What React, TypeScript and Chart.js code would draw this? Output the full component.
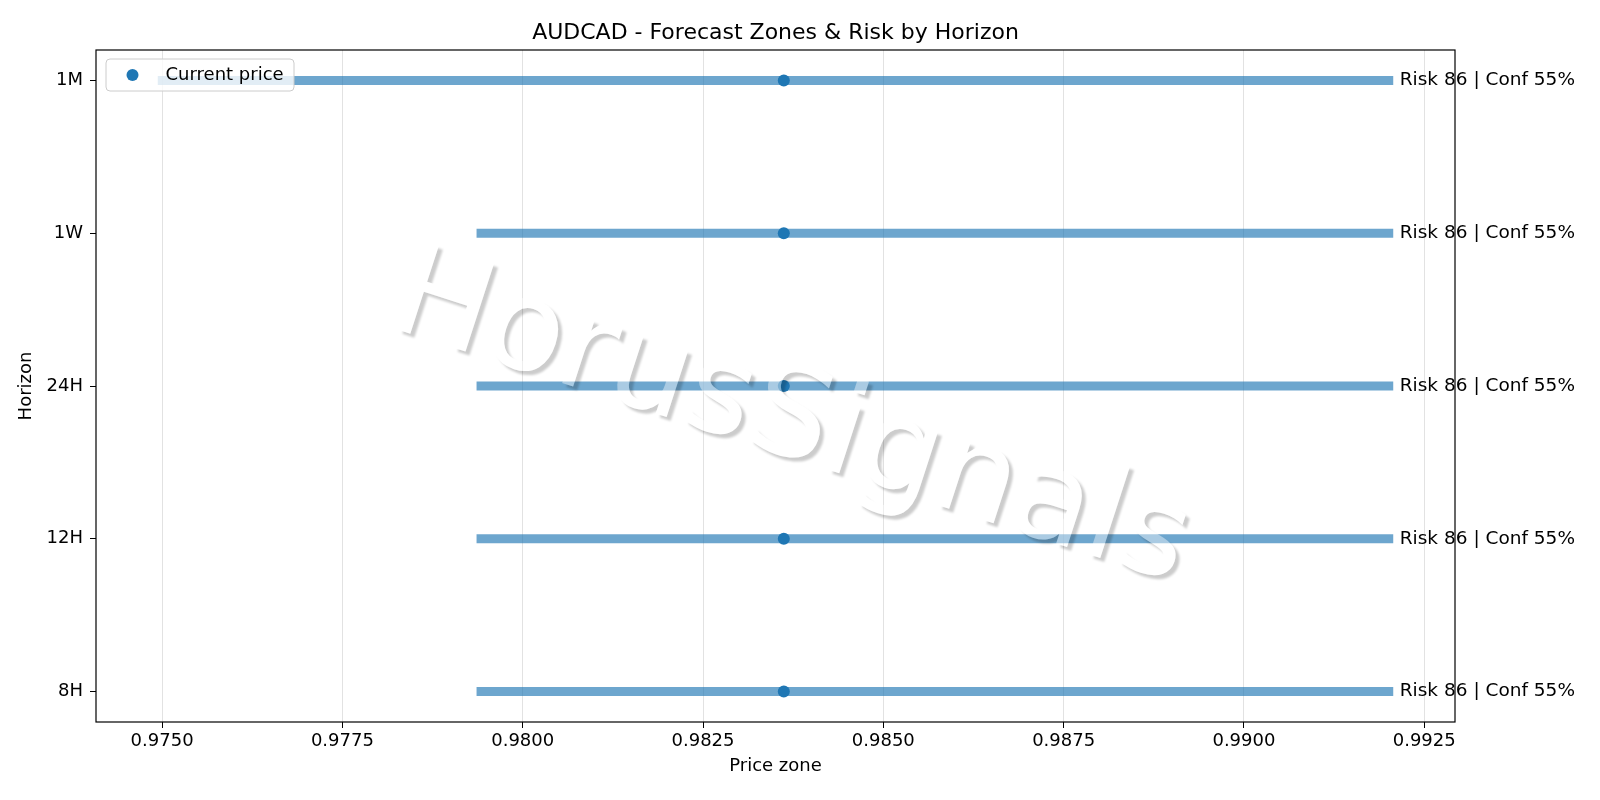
import React, { useEffect, useRef } from 'react';
import { Chart, registerables } from 'chart.js';

Chart.register(...registerables);

// ---------- data ----------
const TITLE = 'AUDCAD - Forecast Zones & Risk by Horizon';
const X_LABEL = 'Price zone';
const Y_LABEL = 'Horizon';
const WATERMARK = 'HorusSignals';
const LEGEND_LABEL = 'Current price';

const horizons = ['8H', '12H', '24H', '1W', '1M'];
const zoneLow = [0.97936, 0.97936, 0.97936, 0.97936, 0.97494];
const zoneHigh = [0.99207, 0.99207, 0.99207, 0.99207, 0.99207];
const currentPrice = [0.98362, 0.98362, 0.98362, 0.98362, 0.98362];
const riskScore = [86, 86, 86, 86, 86];
const confidence = [55, 55, 55, 55, 55];
const X_STEP = 0.0025;

const FONT = '"DejaVu Sans", sans-serif';
const BLUE = '#1f77b4';
const ZONE_COLOR = 'rgba(31,119,180,0.65)';

const allX = [...zoneLow, ...zoneHigh, ...currentPrice];
const lo = Math.min(...allX);
const hi = Math.max(...allX);
const pad = (hi - lo) * 0.05;
const X_MIN = lo - pad;
const X_MAX = hi + pad;

const overlay = {
  id: 'overlay',
  afterDatasetsDraw(chart: any) {
    const { ctx, chartArea: a } = chart;
    const off = document.createElement('canvas');
    off.width = chart.width;
    off.height = chart.height;
    const o = off.getContext('2d')!;
    const cx = (a.left + a.right) / 2 + 5;
    const cy = (a.top + a.bottom) / 2 + 68;
    const ang = (18 * Math.PI) / 180;
    o.font = `127px ${FONT}`;
    o.textAlign = 'center';
    o.textBaseline = 'alphabetic';
    const put = (dx: number, dy: number, fill: string, blur = false) => {
      o.save();
      if (blur) o.filter = 'blur(1px)';
      o.translate(cx + dx, cy + dy);
      o.rotate(ang);
      o.fillStyle = fill;
      o.fillText(WATERMARK, 0, 0);
      o.restore();
    };
    put(4, 4, 'rgba(0,0,0,0.2)', true);
    o.globalCompositeOperation = 'destination-out';
    put(0, 0, '#000');
    o.globalCompositeOperation = 'source-over';
    put(0, 0, 'rgba(255,255,255,0.42)');
    ctx.drawImage(off, 0, 0);
  },
  afterDraw(chart: any) {
    const { ctx, chartArea: a, scales } = chart;
    const xs = scales.x;
    const ys = scales.y;
    ctx.save();
    // spines
    ctx.strokeStyle = '#000';
    ctx.lineWidth = 1.2;
    ctx.strokeRect(a.left, a.top, a.right - a.left, a.bottom - a.top);
    // annotations
    ctx.fillStyle = '#000';
    ctx.font = `18.5px ${FONT}`;
    ctx.textAlign = 'left';
    ctx.textBaseline = 'middle';
    horizons.forEach((_h, i) => {
      const x = xs.getPixelForValue(zoneHigh[i]) + 6.5;
      const y = ys.getPixelForValue(i);
      ctx.fillText(`Risk ${riskScore[i]} | Conf ${confidence[i]}%`, x, y);
    });
    // title
    ctx.font = `22px ${FONT}`;
    ctx.textAlign = 'center';
    ctx.textBaseline = 'alphabetic';
    ctx.fillText(TITLE, (a.left + a.right) / 2, 38.5);
    // legend
    const lx = a.left + 10;
    const ly = a.top + 9;
    ctx.beginPath();
    ctx.roundRect(lx, ly, 188, 32, 4);
    ctx.fillStyle = 'rgba(255,255,255,0.8)';
    ctx.fill();
    ctx.strokeStyle = '#cccccc';
    ctx.lineWidth = 1;
    ctx.stroke();
    ctx.beginPath();
    ctx.arc(lx + 26.5, ly + 16, 6, 0, Math.PI * 2);
    ctx.fillStyle = BLUE;
    ctx.fill();
    ctx.fillStyle = '#000';
    ctx.font = `18px ${FONT}`;
    ctx.textAlign = 'left';
    ctx.textBaseline = 'middle';
    ctx.fillText(LEGEND_LABEL, lx + 59.5, ly + 16);
    ctx.restore();
  },
};

export default function App() {
  const ref = useRef<HTMLCanvasElement | null>(null);
  useEffect(() => {
    document.body.style.margin = '0';
    const canvas = ref.current!;
    const zoneSets = horizons.map((h, i) => ({
      label: h,
      data: [
        { x: zoneLow[i], y: i },
        { x: zoneHigh[i], y: i },
      ],
      showLine: true,
      borderColor: ZONE_COLOR,
      backgroundColor: ZONE_COLOR,
      borderWidth: 9,
      borderCapStyle: 'butt',
      pointRadius: 0,
      order: 2,
    }));
    const dotSet = {
      label: LEGEND_LABEL,
      data: horizons.map((_h, i) => ({ x: currentPrice[i], y: i })),
      showLine: false,
      pointRadius: 6,
      pointBackgroundColor: BLUE,
      pointBorderWidth: 0,
      borderColor: BLUE,
      backgroundColor: BLUE,
      order: 1,
    };
    const chart = new Chart(canvas, {
      type: 'scatter',
      data: { datasets: [...zoneSets, dotSet] as any },
      options: {
        responsive: false,
        animation: false,
        events: [],
        layout: { padding: { top: 50, right: 145, bottom: 0, left: 0 } },
        plugins: {
          legend: { display: false },
          title: { display: false },
          tooltip: { enabled: false },
        },
        scales: {
          x: {
            type: 'linear',
            min: X_MIN,
            max: X_MAX,
            border: { display: false },
            grid: {
              color: '#e2e2e2',
              lineWidth: 1,
              tickColor: '#000',
              tickLength: 6,
              drawOnChartArea: true,
            },
            ticks: {
              stepSize: X_STEP,
              includeBounds: false,
              autoSkip: false,
              maxRotation: 0,
              padding: 3,
              color: '#000',
              font: { family: FONT, size: 18 },
              callback: (v: any) => Number(v).toFixed(4),
            },
            title: {
              display: true,
              text: X_LABEL,
              color: '#000',
              font: { family: FONT, size: 18 },
              padding: { top: 23, bottom: 23 },
            },
            afterFit: (s: any) => {
              s.height = 78;
            },
          },
          y: {
            type: 'linear',
            min: -0.2,
            max: 4.2,
            border: { display: false },
            grid: {
              drawOnChartArea: false,
              tickColor: '#000',
              tickLength: 6,
            },
            ticks: {
              stepSize: 1,
              includeBounds: false,
              autoSkip: false,
              padding: 7,
              color: '#000',
              font: { family: FONT, size: 18 },
              callback: (v: any) => horizons[Math.round(Number(v))] ?? '',
            },
            title: {
              display: true,
              text: Y_LABEL,
              color: '#000',
              font: { family: FONT, size: 18 },
              padding: { top: 16, bottom: 16 },
            },
            afterFit: (s: any) => {
              s.width = 96;
            },
          },
        },
      },
      plugins: [overlay],
    });
    return () => chart.destroy();
  }, []);
  return <canvas ref={ref} width={1600} height={800} style={{ display: 'block' }} />;
}
